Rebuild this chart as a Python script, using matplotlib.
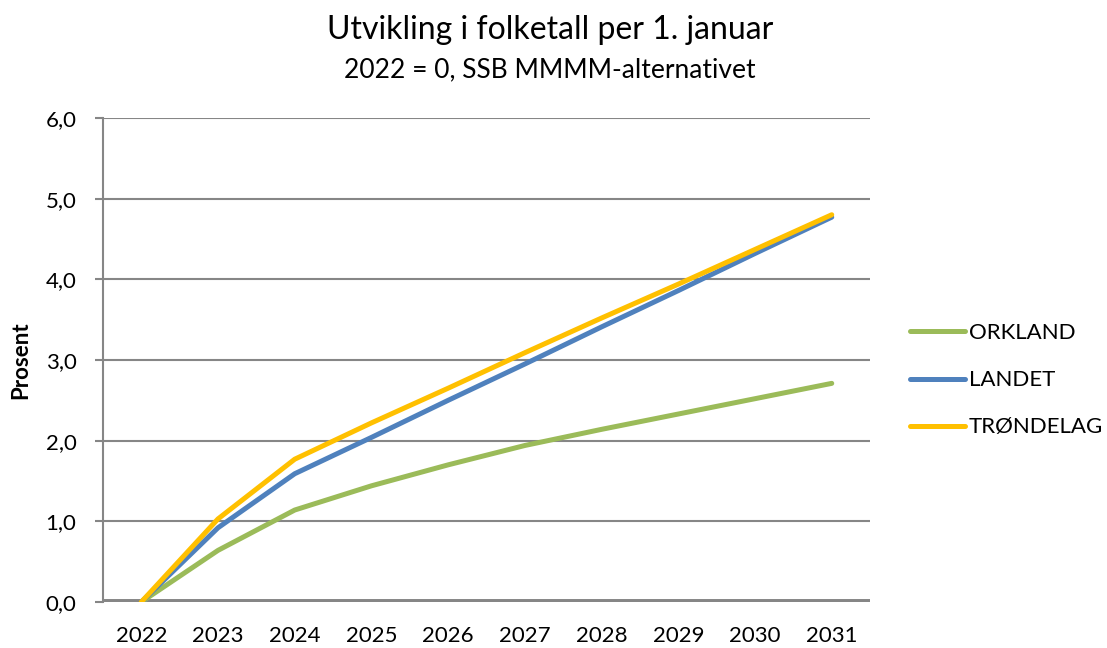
import matplotlib.pyplot as plt
import numpy as np

plt.rcParams['font.family'] = ['Lato', 'DejaVu Sans']

# Data (percent change since 2022)
years = ['2022', '2023', '2024', '2025', '2026', '2027', '2028', '2029', '2030', '2031']
orkland = [0.0, 0.64, 1.14, 1.44, 1.70, 1.94, 2.14, 2.33, 2.52, 2.71]
landet = [0.0, 0.92, 1.59, 2.04, 2.50, 2.95, 3.41, 3.86, 4.32, 4.77]
trondelag = [0.0, 1.03, 1.77, 2.22, 2.65, 3.09, 3.52, 3.94, 4.37, 4.80]

x = np.arange(len(years))
grey = '#868686'

fig = plt.figure(figsize=(11.07, 6.48), dpi=100)
ax = fig.add_axes([0.093, 0.071, 0.693, 0.747])

ax.plot(x, orkland, color='#9BBB59', lw=3.6, label='ORKLAND', solid_capstyle='round')
ax.plot(x, landet, color='#4F81BD', lw=3.6, label='LANDET', solid_capstyle='round')
ax.plot(x, trondelag, color='#FFC000', lw=3.6, label='TRØNDELAG', solid_capstyle='round')

ax.set_xlim(-0.5, len(years) - 0.5)
ax.set_ylim(0, 6)
ax.set_yticks(np.arange(0, 7, 1))
ax.set_yticklabels([f'{v:.1f}'.replace('.', ',') for v in range(7)], fontsize=16)
ax.set_xticks(x)
ax.set_xticklabels(years, fontsize=16)
ax.tick_params(axis='x', length=0, pad=17)
ax.tick_params(axis='y', length=6, width=1.5, color=grey, pad=13)

ax.grid(axis='y', color=grey, lw=1.5)
ax.set_axisbelow(True)
for s in ['top', 'right', 'bottom']:
    ax.spines[s].set_visible(False)
ax.spines['left'].set_color(grey)
ax.spines['left'].set_linewidth(1.5)
ax.axhline(0, color=grey, lw=5, zorder=1.5)

ax.set_ylabel('Prosent', fontsize=16, fontweight='bold')
ax.yaxis.set_label_coords(-0.093, 0.5)

fig.text(0.497, 0.953, 'Utvikling i folketall per 1. januar', ha='center', va='center', fontsize=23)
fig.text(0.497, 0.892, '2022 = 0, SSB MMMM-alternativet', ha='center', va='center', fontsize=19)

fig.legend(loc='center left', bbox_to_anchor=(0.822, 0.413), frameon=False, fontsize=16,
           borderaxespad=0, borderpad=0, handlelength=2.48, handletextpad=0.18,
           labelspacing=1.22)

plt.savefig('out.png', dpi=100)
